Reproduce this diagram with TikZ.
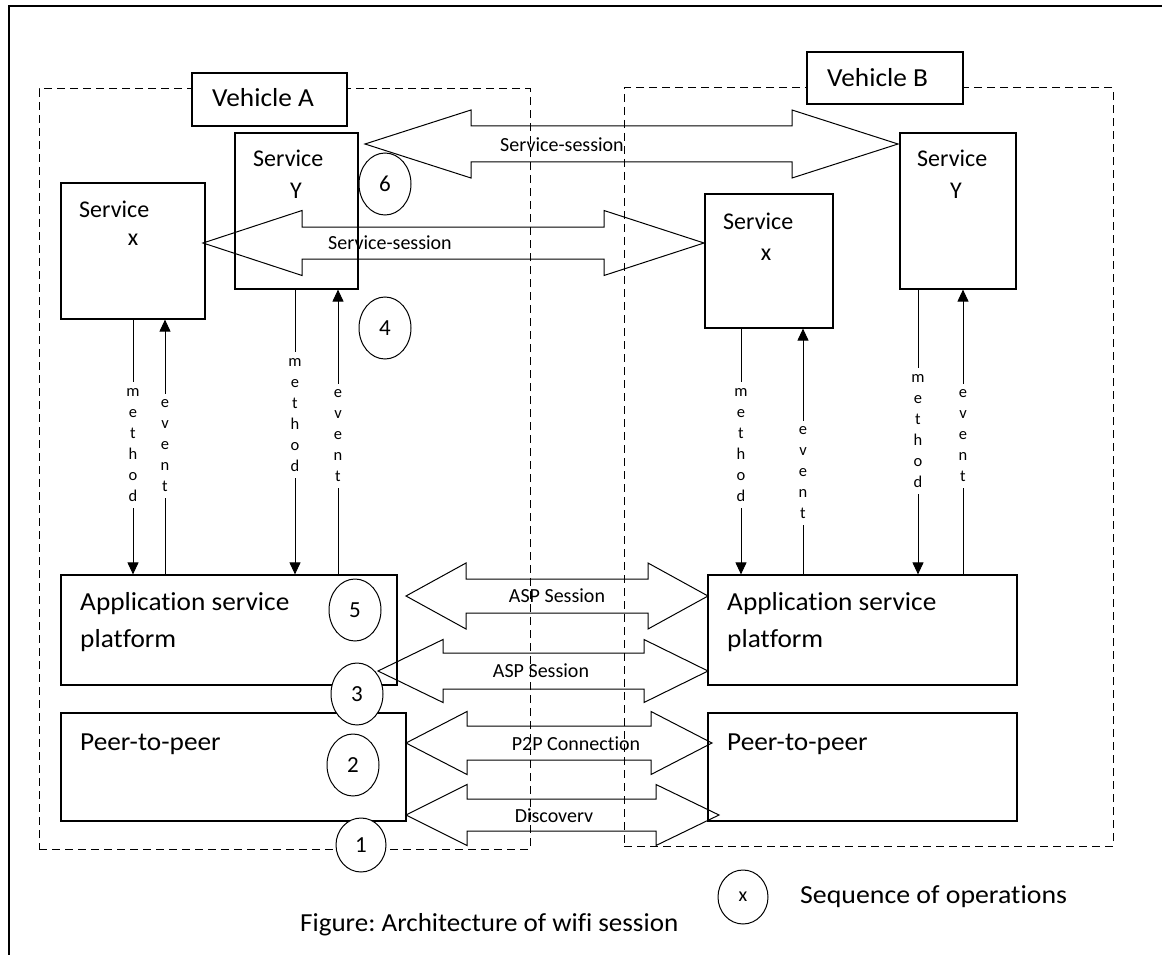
\documentclass[tikz,border=0pt]{standalone}
\usepackage{fontspec}
\setmainfont{Carlito}[Ligatures=NoCommon]
\usetikzlibrary{arrows.meta,shapes.geometric}
\newcommand\blockarr[7]{%
  \draw[barrow] (#1,#5) -- (#2,#5-#7) -- (#2,#5-#6) -- (#3,#5-#6) -- (#3,#5-#7) -- (#4,#5)
    -- (#3,#5+#7) -- (#3,#5+#6) -- (#2,#5+#6) -- (#2,#5+#7) -- cycle;}
\begin{document}
\begin{tikzpicture}[x=1pt,y=-1pt,
  frame/.style={line width=1.4pt},
  vehbox/.style={draw,dash pattern=on 8pt off 5pt,line width=1pt,inner sep=0pt},
  lblbox/.style={draw,fill=white,line width=1.2pt,inner sep=0pt},
  box/.style={draw,line width=1.2pt,inner sep=0pt},
  seq/.style={draw,ellipse,fill=white,line width=1pt,inner sep=0pt,minimum width=52pt,minimum height=62pt,font=\fontsize{23}{26}\selectfont},
  barrow/.style={line width=1pt,line join=miter},
  conn/.style={line width=1pt,-{Triangle[length=12pt,width=11pt]}},
  big/.style={font=\fontsize{26}{30}\selectfont,inner sep=0pt,anchor=base west,xscale=1.05,transform shape},
  svc/.style={font=\fontsize{24}{28}\selectfont,inner sep=0pt},
  sess/.style={font=\fontsize{20}{24}\selectfont,inner sep=0pt},
  vlet/.style={fill=white,inner xsep=1pt,inner ysep=6pt,align=center,font=\fontsize{16.5}{21}\selectfont},
  captext/.style={font=\fontsize{26}{30}\selectfont,inner sep=0pt,anchor=base west}]
\useasboundingbox (0,0) rectangle (1162,955);
% outer frame
\draw[frame] (9,970) -- (9,6) -- (1175,6);
% vehicle areas
\node[vehbox,minimum width=491pt,minimum height=760pt] (va) at (284.5,469) {};
\node[vehbox,minimum width=489pt,minimum height=758pt] (vb) at (868.5,467) {};
\node[lblbox,minimum width=155pt,minimum height=53pt] (vaL) at (269.5,99.5) {};
\node[lblbox,minimum width=156pt,minimum height=52pt] (vbL) at (885,78) {};
\node[big] (vaT) at (212,107) {Vehicle A};
\node[big] (vbT) at (827,87) {Vehicle B};
% service boxes
\node[box,minimum width=123pt,minimum height=156pt] (syA) at (296.5,211) {};
\node[box,minimum width=144pt,minimum height=136pt] (sxA) at (133,251) {};
\node[box,minimum width=128pt,minimum height=134pt] (sxB) at (769,261) {};
\node[box,minimum width=116pt,minimum height=156pt] (syB) at (958,211) {};
\node[svc,anchor=base west] (syAt1) at (253,167) {Service};
\node[svc,anchor=base] (syAt2) at (296,198) {Y};
\node[svc,anchor=base west] (sxAt1) at (79,217) {Service};
\node[svc,anchor=base] (sxAt2) at (133,245) {x};
\node[svc,anchor=base west] (sxBt1) at (723,229) {Service};
\node[svc,anchor=base] (sxBt2) at (766,260) {x};
\node[svc,anchor=base west] (syBt1) at (917,167) {Service};
\node[svc,anchor=base] (syBt2) at (956,198) {Y};
% platform boxes
\node[box,minimum width=336pt,minimum height=110pt] (aspA) at (229,630) {};
\node[box,minimum width=345pt,minimum height=108pt] (p2pA) at (233.5,767) {};
\node[box,minimum width=309pt,minimum height=110pt] (aspB) at (862.5,630) {};
\node[box,minimum width=309pt,minimum height=108pt] (p2pB) at (862.5,767) {};
\node[big] (aspAt1) at (80,610) {Application service};
\node[big] (aspAt2) at (80,647) {platform};
\node[big] (p2pAt) at (80,750) {Peer-to-peer};
\node[big] (aspBt1) at (727,610) {Application service};
\node[big] (aspBt2) at (727,647) {platform};
\node[big] (p2pBt) at (727,750) {Peer-to-peer};
% sequence circles
\node[seq] (c6) at (385,184) {6};
\node[seq] (c4) at (385,328) {4};
\node[seq] (c5) at (355,610) {5};
\node[seq] (c3) at (357,694) {3};
\node[seq] (c2) at (353,765) {2};
\node[seq,minimum width=50pt,minimum height=54pt] (c1) at (361,845) {1};
% block arrows
\blockarr{365}{471}{792}{898}{144}{18}{34}
\blockarr{203}{302}{604}{704}{243}{16}{32.5}
\blockarr{406}{466}{648}{708}{596}{17}{33}
\blockarr{378}{443}{644}{708}{671}{18}{31.5}
\blockarr{406}{467}{651}{712}{743}{17}{31.5}
\blockarr{406}{467}{656}{719}{815}{16}{30.5}
\node[sess] (ss1) at (562,145) {Service-session};
\node[sess] (ss2) at (390,243) {Service-session};
\node[sess] (asp1) at (557,596) {ASP Session};
\node[sess] (asp2) at (541,671) {ASP Session};
\node[sess] (p2pc) at (576,744) {P2P Connection};
\node[sess] (disc) at (554,816) {Discoverv};
% method / event connectors
\coordinate (xm1) at (133,0);
\coordinate (xe1) at (165,0);
\coordinate (xm2) at (295,0);
\coordinate (xe2) at (338,0);
\coordinate (xm3) at (741,0);
\coordinate (xe3) at (803,0);
\coordinate (xm4) at (918,0);
\coordinate (xe4) at (963,0);
\draw[conn] (sxA.south -| xm1) -- (aspA.north -| xm1);
\draw[conn] (aspA.north -| xe1) -- (sxA.south -| xe1);
\draw[conn] (syA.south -| xm2) -- (aspA.north -| xm2);
\draw[conn] (aspA.north -| xe2) -- (syA.south -| xe2);
\draw[conn] (sxB.south -| xm3) -- (aspB.north -| xm3);
\draw[conn] (aspB.north -| xe3) -- (sxB.south -| xe3);
\draw[conn] (syB.south -| xm4) -- (aspB.north -| xm4);
\draw[conn] (aspB.north -| xe4) -- (syB.south -| xe4);
\node[vlet] (lm1) at (133,445) {m\\e\\t\\h\\o\\d};
\node[vlet] (le1) at (165,446) {e\\v\\e\\n\\t};
\node[vlet] (lm2) at (295,415) {m\\e\\t\\h\\o\\d};
\node[vlet] (le2) at (338,436) {e\\v\\e\\n\\t};
\node[vlet] (lm3) at (741,445) {m\\e\\t\\h\\o\\d};
\node[vlet] (le3) at (803,473) {e\\v\\e\\n\\t};
\node[vlet] (lm4) at (918,431) {m\\e\\t\\h\\o\\d};
\node[vlet] (le4) at (963,436) {e\\v\\e\\n\\t};
% legend and caption
\node[seq,minimum width=50pt,minimum height=54pt,font=\fontsize{20}{24}\selectfont] (cx) at (743,897) {x};
\node[captext,xscale=1.07,transform shape] (legT) at (800,903) {Sequence of operations};
\node[captext,xscale=1.04,transform shape] (capT) at (300,931) {Figure:\kern-2pt{} Architecture of wifi session};
\end{tikzpicture}
\end{document}
